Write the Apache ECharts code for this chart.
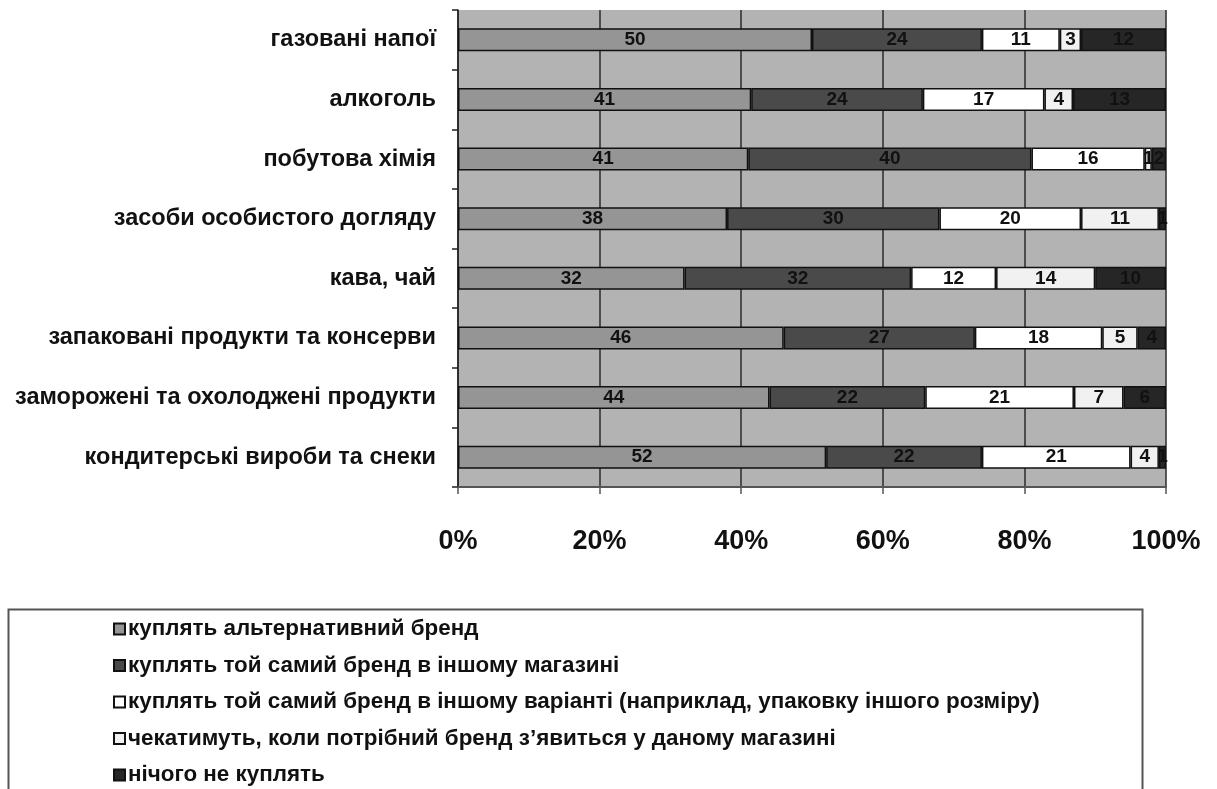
<!DOCTYPE html>
<html>
<head>
<meta charset="utf-8">
<script src="https://cdn.jsdelivr.net/npm/echarts@6/dist/echarts.min.js"></script>
<style>
  html, body { margin: 0; padding: 0; background: #ffffff; }
  #chart { width: 1217px; height: 789px; }
</style>
</head>
<body>
<div id="chart"></div>
<script>
// Товарні категорії (зверху вниз)
const categories = [
  'газовані напої',
  'алкоголь',
  'побутова хімія',
  'засоби особистого догляду',
  'кава, чай',
  'запаковані продукти та консерви',
  'заморожені та охолоджені продукти',
  'кондитерські вироби та снеки'
];

// Назви варіантів поведінки покупців
const seriesNames = [
  'куплять альтернативний бренд',
  'куплять той самий бренд в іншому магазині',
  'куплять той самий бренд в іншому варіанті (наприклад, упаковку іншого розміру)',
  'чекатимуть, коли потрібний бренд з\u2019явиться у даному магазині',
  'нічого не куплять'
];

// Частки відповідей, %
const altBrand       = [50, 41, 41, 38, 32, 46, 44, 52];
const otherStore     = [24, 24, 40, 30, 32, 27, 22, 22];
const otherVariant   = [11, 17, 16, 20, 12, 18, 21, 21];
const waitForBrand   = [ 3,  4,  1, 11, 14,  5,  7,  4];
const buyNothing     = [12, 13,  2,  1, 10,  4,  6,  1];

// Підписи осі X
const xTicks = ['0%', '20%', '40%', '60%', '80%', '100%'];

const seriesValues = [altBrand, otherStore, otherVariant, waitForBrand, buyNothing];
const seriesColors = ['#959595', '#4a4a4a', '#ffffff', '#f1f1f1', '#262626'];

// Нормування до 100% у кожному рядку (накопичена діаграма 100%)
const rowSums = categories.map((_, i) =>
  seriesValues.reduce((s, arr) => s + arr[i], 0));

const chart = echarts.init(document.getElementById('chart'), null, { renderer: 'canvas' });

const series = seriesValues.map((arr, k) => ({
  name: seriesNames[k],
  type: 'bar',
  stack: 'total',
  barWidth: 23,
  data: arr.map((v, i) => ({ value: v / rowSums[i] * 100, raw: v })),
  itemStyle: { color: seriesColors[k], borderColor: '#111', borderWidth: 1.5 },
  label: {
    show: true,
    position: 'inside',
    color: '#111',
    fontFamily: '"Liberation Sans Narrow", "Liberation Sans", Arial, sans-serif',
    fontWeight: 'bold',
    fontSize: 19,
    formatter: p => String(p.data.raw)
  },
  emphasis: { disabled: true }
}));

chart.setOption({
  animation: false,
  backgroundColor: '#ffffff',
  grid: {
    left: 458, right: 51, top: 10, bottom: 302,
    show: true, backgroundColor: '#b3b3b3', borderWidth: 0
  },
  xAxis: {
    type: 'value',
    min: 0, max: 100, interval: 20,
    axisLine: { show: true, lineStyle: { color: '#555', width: 2 } },
    axisTick: { show: true, length: 7, lineStyle: { color: '#555', width: 1.5 } },
    splitLine: { show: true, lineStyle: { color: '#2b2b2b', width: 1.5 } },
    axisLabel: {
      margin: 41,
      color: '#111',
      fontFamily: '"Liberation Sans", Arial, sans-serif',
      fontWeight: 'bold',
      fontSize: 27,
      formatter: v => xTicks[Math.round(v / 20)]
    }
  },
  yAxis: {
    type: 'category',
    inverse: true,
    data: categories,
    axisLine: { show: true, lineStyle: { color: '#222', width: 1.5 } },
    axisTick: { show: true, length: 6, lineStyle: { color: '#222', width: 1.5 } },
    axisLabel: {
      margin: 22,
      color: '#111',
      fontFamily: '"Liberation Sans", Arial, sans-serif',
      fontWeight: 'bold',
      fontSize: 23.5
    }
  },
  legend: {
    orient: 'vertical',
    left: 108,
    top: 613,
    height: 260,
    itemGap: 14.5,
    itemWidth: 11,
    itemHeight: 11,
    icon: 'rect',
    data: seriesNames,
    textStyle: {
      color: '#111',
      fontFamily: '"Liberation Sans", Arial, sans-serif',
      fontWeight: 'bold',
      fontSize: 22.4,
      lineHeight: 22,
      padding: [0, 0, 0, -2]
    }
  },
  graphic: [
    {
      type: 'rect',
      left: 6, top: 607,
      shape: { width: 1134, height: 220 },
      style: { fill: 'none', stroke: '#555', lineWidth: 2 },
      silent: true,
      z: -1
    }
  ],
  series: series
});
</script>
</body>
</html>
